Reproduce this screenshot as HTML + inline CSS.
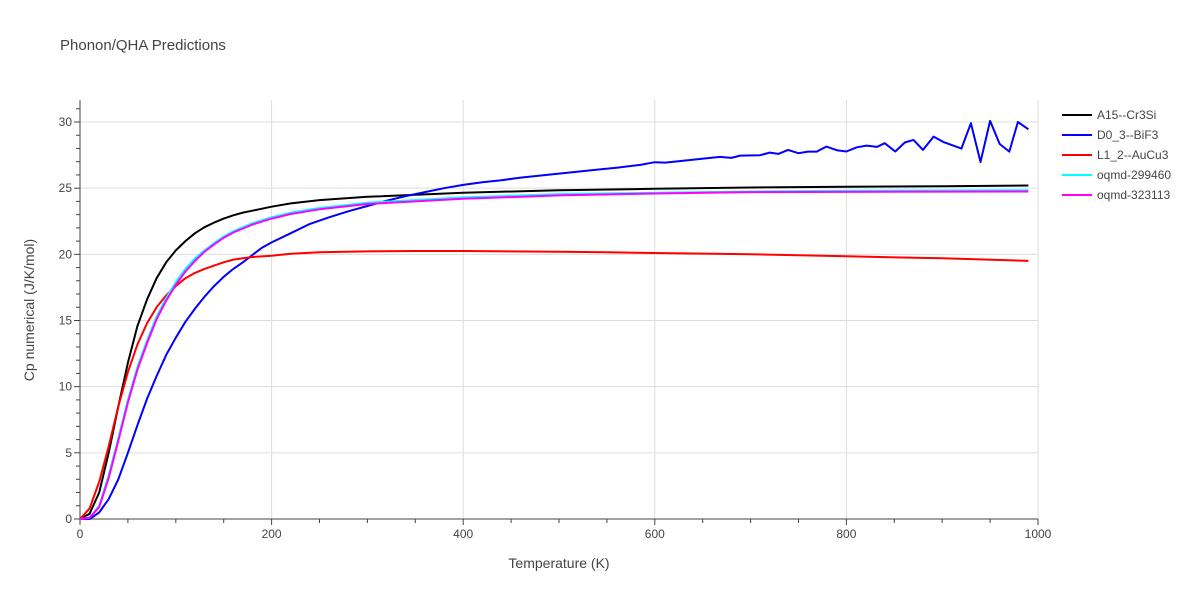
<!DOCTYPE html>
<html><head><meta charset="utf-8"><style>
body{margin:0;background:#fff;font-family:"Liberation Sans",sans-serif}
svg text{font-family:"Liberation Sans",sans-serif;fill:#444}
</style></head><body>
<svg id="chart" width="1200" height="600" xmlns="http://www.w3.org/2000/svg">
<text x="60" y="50" font-size="15">Phonon/QHA Predictions</text>
<g id="grid"></g>
<g id="axes"></g>
<g id="series"></g>
<g id="legend"></g>
<text x="559" y="568" font-size="14" text-anchor="middle">Temperature (K)</text>
<text transform="translate(34,310) rotate(-90)" font-size="14" text-anchor="middle">Cp numerical (J/K/mol)</text>
</svg>
<script>
const xTicks=[0,200,400,600,800,1000];
const yTicks=[0,5,10,15,20,25,30];
const seriesNames=["A15--Cr3Si","D0_3--BiF3","L1_2--AuCu3","oqmd-299460","oqmd-323113"];
const seriesColors=["#000000","#0000ff","#ff0000","#00ffff","#ff00ff"];
const tBlack=[0,10,20,30,40,50,60,70,80,90,100,110,120,130,140,150,160,170,180,200,220,250,300,400,500,600,700,800,900,990];
const vBlack=[0,0.4,2,5,8.5,11.8,14.6,16.6,18.2,19.4,20.3,21.0,21.6,22.05,22.4,22.7,22.95,23.15,23.3,23.6,23.85,24.1,24.35,24.65,24.85,24.95,25.05,25.1,25.15,25.2];
const tBlue=[0,10,20,30,40,50,60,70,80,90,100,110,120,130,140,150,160,170,180,190,200,220,240,260,280,300,320,340,360,380,400,420,440,460,480,500,520,540,560,585,600,611,668,680,689,710,720,729,739,750,760,769,779,790,800,811,821,832,840,851,861,870,880,891,901,920,930,940,950,960,970,979,990];
const vBlue=[0,0,0.5,1.5,3,5,7.1,9.1,10.8,12.4,13.7,14.9,15.9,16.8,17.6,18.3,18.9,19.4,19.95,20.5,20.9,21.6,22.3,22.8,23.25,23.65,24.05,24.4,24.7,25,25.25,25.45,25.6,25.8,25.95,26.1,26.25,26.4,26.55,26.76,26.96,26.93,27.36,27.29,27.46,27.49,27.69,27.59,27.89,27.64,27.76,27.76,28.14,27.87,27.77,28.09,28.22,28.12,28.4,27.77,28.45,28.65,27.89,28.9,28.5,27.99,29.91,26.98,30.08,28.34,27.76,30.0,29.45];
const tRed=[0,10,20,30,40,50,60,70,80,90,100,110,120,130,140,150,160,170,180,200,220,250,300,350,400,500,550,600,700,800,900,990];
const vRed=[0,0.8,2.8,5.5,8.5,11.1,13.2,14.8,16,16.9,17.6,18.2,18.6,18.9,19.15,19.4,19.6,19.7,19.8,19.9,20.05,20.15,20.22,20.25,20.25,20.2,20.15,20.1,20.0,19.85,19.7,19.5];
const tCyan=[0,10,20,30,40,50,60,70,80,90,100,110,120,130,140,150,160,170,180,200,220,250,300,400,500,600,700,800,990];
const vCyan=[0,0.1,1,3.3,6.1,9.0,11.5,13.5,15.3,16.7,17.9,18.9,19.7,20.3,20.85,21.35,21.75,22.05,22.35,22.8,23.15,23.5,23.9,24.3,24.55,24.65,24.75,24.8,24.85];
const tMag=[0,10,20,30,40,50,60,70,80,90,100,110,120,130,140,150,160,170,180,200,220,250,300,400,500,600,700,800,990];
const vMag=[0,0.1,0.9,3.1,5.9,8.8,11.3,13.3,15.1,16.5,17.7,18.7,19.5,20.2,20.75,21.25,21.65,21.95,22.25,22.7,23.05,23.4,23.8,24.2,24.45,24.6,24.7,24.72,24.75];
const seriesT=[tBlack,tBlue,tRed,tCyan,tMag];
const seriesV=[vBlack,vBlue,vRed,vCyan,vMag];
const NS="http://www.w3.org/2000/svg";
const L=80,R=1038,B=519,T0=100;
function xs(t){return L+(t/1000)*(R-L);}
function ys(v){return B-(v/30)*(B-122);}
function mk(tag,attrs,parent){const e=document.createElementNS(NS,tag);for(const k in attrs)e.setAttribute(k,attrs[k]);parent.appendChild(e);return e;}
const grid=document.getElementById('grid'),axes=document.getElementById('axes'),ser=document.getElementById('series'),leg=document.getElementById('legend');
xTicks.forEach(t=>{if(t>0){const g=mk('line',{x1:xs(t),x2:xs(t),y1:T0,y2:B,stroke:'#dddddd','stroke-width':1},grid);

}
const tx=mk('text',{x:xs(t),y:B+19,'font-size':12,'text-anchor':'middle'},axes);tx.textContent=t;

});
for(let t=0;t<=1000;t+=50){mk('line',{x1:xs(t),x2:xs(t),y1:B,y2:B+(t%200==0?6:4),stroke:'#444','stroke-width':1},axes);}
yTicks.forEach(v=>{if(v>0){const g=mk('line',{x1:L,x2:R,y1:ys(v),y2:ys(v),stroke:'#dddddd','stroke-width':1},grid);

}
const tx=mk('text',{x:L-8,y:ys(v)+4,'font-size':12,'text-anchor':'end'},axes);tx.textContent=v;

});
for(let v=0;v<=31;v++){mk('line',{x1:L-(v%5==0?6:4),x2:L,y1:ys(v),y2:ys(v),stroke:'#444','stroke-width':1},axes);}
const xa=mk('line',{x1:L,x2:R,y1:B,y2:B,stroke:'#444','stroke-width':1},axes);


const ya=mk('line',{x1:L,x2:L,y1:T0,y2:B,stroke:'#444','stroke-width':1},axes);


seriesNames.forEach((n,i)=>{const pts=seriesT[i].map((t,j)=>xs(t).toFixed(1)+','+ys(seriesV[i][j]).toFixed(1)).join(' ');
const p=mk('polyline',{points:pts,fill:'none',stroke:seriesColors[i],'stroke-width':2,'stroke-linejoin':'round'},ser);


const y=115+i*20;
const g=mk('g',{},leg);


mk('line',{x1:1062,x2:1092,y1:y,y2:y,stroke:seriesColors[i],'stroke-width':2},g);
const tx=mk('text',{x:1097,y:y+4,'font-size':12},g);tx.textContent=n;});
</script>
</body></html>
